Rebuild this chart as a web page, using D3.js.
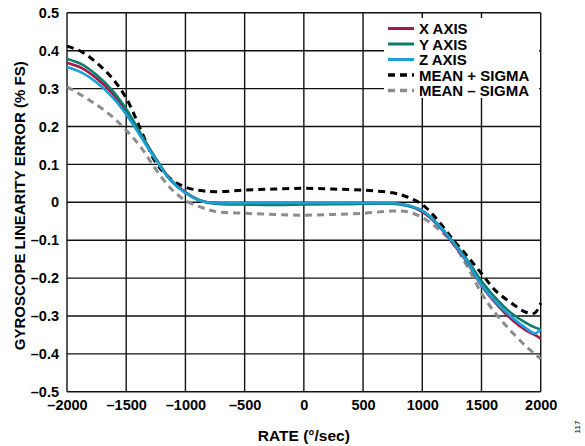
<!DOCTYPE html>
<html>
<head>
<meta charset="utf-8">
<script src="https://cdn.jsdelivr.net/npm/d3@7/dist/d3.min.js"></script>
<style>
  html, body { margin: 0; padding: 0; background: #fff; }
  svg { display: block; font-family: "Liberation Sans", Arial, sans-serif; font-weight: bold; }
</style>
</head>
<body>
<svg id="chart" width="585" height="446"></svg>
<script>
// Input rate (°/sec)
const rates = [-2000, -1875, -1750, -1625, -1500, -1375, -1250, -1125, -1000, -875, -750, -500, -250, 0,
               250, 500, 750, 875, 1000, 1125, 1250, 1375, 1500, 1625, 1750, 1875, 1950, 2000];

// Linearity error (% FS) per axis and the mean ± sigma envelope
const xAxis = [0.368, 0.354, 0.327, 0.290, 0.240, 0.178, 0.115, 0.060, 0.027, 0.005, -0.002, -0.004, -0.004, -0.004,
               -0.004, -0.004, -0.003, -0.008, -0.025, -0.058, -0.105, -0.157, -0.220, -0.268, -0.308, -0.338, -0.350, -0.360];
const yAxis = [0.378, 0.364, 0.336, 0.298, 0.246, 0.180, 0.115, 0.058, 0.025, 0.005, -0.004, -0.006, -0.007, -0.006,
               -0.005, -0.004, -0.004, -0.010, -0.022, -0.055, -0.100, -0.150, -0.208, -0.255, -0.292, -0.318, -0.330, -0.335];
const zAxis = [0.357, 0.342, 0.316, 0.280, 0.232, 0.172, 0.112, 0.058, 0.025, 0.004, -0.002, -0.002, -0.002, -0.002,
               -0.002, -0.002, -0.002, -0.008, -0.022, -0.056, -0.102, -0.155, -0.218, -0.265, -0.302, -0.332, -0.346, -0.336];
const meanPlusSigma = [0.412, 0.397, 0.368, 0.330, 0.275, 0.190, 0.105, 0.062, 0.040, 0.031, 0.028, 0.032, 0.035, 0.037,
                       0.035, 0.032, 0.025, 0.014, -0.006, -0.045, -0.095, -0.140, -0.188, -0.235, -0.265, -0.290, -0.292, -0.266];
const meanMinusSigma = [0.305, 0.282, 0.257, 0.228, 0.190, 0.145, 0.087, 0.037, 0.005, -0.012, -0.024, -0.029, -0.032, -0.034,
                        -0.032, -0.029, -0.023, -0.025, -0.040, -0.068, -0.105, -0.166, -0.240, -0.296, -0.340, -0.380, -0.400, -0.413];

const xTicks = [-2000, -1500, -1000, -500, 0, 500, 1000, 1500, 2000];
const yTicks = [-0.5, -0.4, -0.3, -0.2, -0.1, 0, 0.1, 0.2, 0.3, 0.4, 0.5];

const seriesNames = ["X AXIS", "Y AXIS", "Z AXIS", "MEAN + SIGMA", "MEAN – SIGMA"];
const seriesValues = [xAxis, yAxis, zAxis, meanPlusSigma, meanMinusSigma];
const seriesColors = ["#a51a4a", "#0b7d6c", "#1c9fd6", "#000000", "#8c8c8c"];
const seriesDashed = [false, false, false, true, true];

const svg = d3.select("#chart");
const margin = { left: 67, right: 44.3, top: 12.8, bottom: 54.2 };
const W = 585, H = 446;

const x = d3.scaleLinear().domain([-2000, 2000]).range([margin.left, W - margin.right]);
const y = d3.scaleLinear().domain([-0.5, 0.5]).range([H - margin.bottom, margin.top]);

const fmt = v => (v < 0 ? "–" : "") + d3.format("")(Math.abs(v));
const fmtY = v => v === 0 ? "0" : (v < 0 ? "–" : "") + d3.format(".1f")(Math.abs(v));

// Grid
const grid = svg.append("g").attr("stroke", "#111").attr("stroke-width", 1.4);
grid.selectAll("line.v").data(xTicks).join("line")
  .attr("x1", d => x(d)).attr("x2", d => x(d))
  .attr("y1", y(-0.5)).attr("y2", y(0.5));
grid.selectAll("line.h").data(yTicks).join("line")
  .attr("x1", x(-2000)).attr("x2", x(2000))
  .attr("y1", d => y(d)).attr("y2", d => y(d));

// Axes (labels only; frame comes from grid)
const xAx = svg.append("g").attr("transform", `translate(0,${y(-0.5)})`)
  .call(d3.axisBottom(x).tickValues(xTicks).tickFormat(fmt).tickSize(0).tickPadding(8));
const yAx = svg.append("g").attr("transform", `translate(${x(-2000)},0)`)
  .call(d3.axisLeft(y).tickValues(yTicks).tickFormat(fmtY).tickSize(0).tickPadding(8));
[xAx, yAx].forEach(a => {
  a.select(".domain").remove();
  a.selectAll("text").attr("font-size", 14.5).attr("font-weight", "bold")
    .attr("font-family", "Liberation Sans, Arial, sans-serif").attr("fill", "#000");
});

// Series lines
const line = d3.line().x((d, i) => x(rates[i])).y(d => y(d)).curve(d3.curveCatmullRom.alpha(0.5));
const plot = svg.append("g");
const order = [3, 4, 0, 1, 2];
order.forEach(k => {
  plot.append("path")
    .datum(seriesValues[k])
    .attr("d", line)
    .attr("fill", "none")
    .attr("stroke", seriesColors[k])
    .attr("stroke-width", seriesDashed[k] ? 3 : 2.6)
    .attr("stroke-dasharray", seriesDashed[k] ? "7,5" : null)
    .attr("stroke-linejoin", "round");
});

// Legend
const leg = svg.append("g");
leg.append("rect").attr("x", 384).attr("y", 18).attr("width", 155).attr("height", 80).attr("fill", "#fff");
seriesNames.forEach((name, i) => {
  const yy = 28.5 + i * 15.5;
  leg.append("line")
    .attr("x1", 388).attr("x2", 414).attr("y1", yy).attr("y2", yy)
    .attr("stroke", seriesColors[i]).attr("stroke-width", seriesDashed[i] ? 3.5 : 3)
    .attr("stroke-dasharray", seriesDashed[i] ? "7,5" : null);
  leg.append("text").attr("x", 419).attr("y", yy + 5.5).attr("font-size", 15).attr("fill", "#000").text(name);
});

// Axis titles
svg.append("text").attr("x", (x(-2000) + x(2000)) / 2).attr("y", 441)
  .attr("text-anchor", "middle").attr("font-size", 15.5).text("RATE (°/sec)");
svg.append("text").attr("transform", `translate(24.5,${(y(0.5) + y(-0.5)) / 2 + 3.5}) rotate(-90)`)
  .attr("text-anchor", "middle").attr("font-size", 15).text("GYROSCOPE LINEARITY ERROR (% FS)");
svg.append("text").attr("transform", "translate(580,427) rotate(-90)")
  .attr("text-anchor", "middle").attr("font-size", 8).attr("font-weight", "normal").text("117");
</script>
</body>
</html>
